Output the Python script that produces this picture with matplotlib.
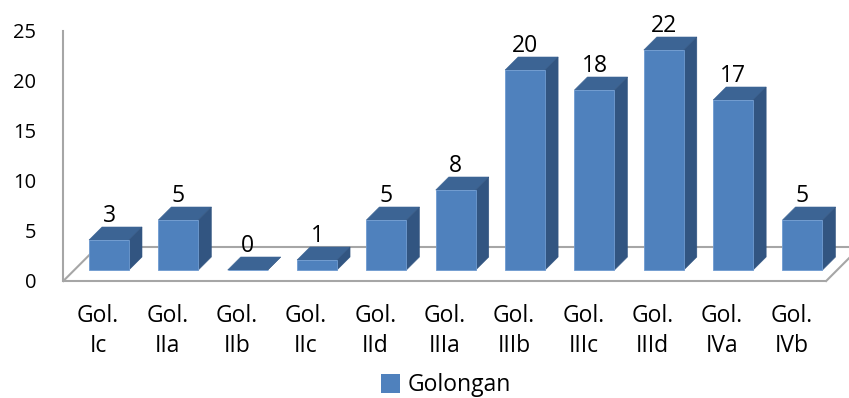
import matplotlib
matplotlib.use("Agg")
import matplotlib.pyplot as plt
from matplotlib.patches import Polygon, Patch

# Data
categories = ["Ic", "IIa", "IIb", "IIc", "IId", "IIIa", "IIIb", "IIIc", "IIId", "IVa", "IVb"]
values = [3, 5, 0, 1, 5, 8, 20, 18, 22, 17, 5]
y_ticks = [0, 5, 10, 15, 20, 25]
series_name = "Golongan"

# Colours
FRONT = "#4F81BD"
TOP = "#3C6494"
SIDE = "#325581"
EDGE = "#6E9AD0"
WALL = "#A6A6A6"

plt.rcParams["font.family"] = ["Open Sans", "DejaVu Sans"]

W, H, DPI = 849, 398, 100
fig = plt.figure(figsize=(W / DPI, H / DPI), dpi=DPI)
ax = fig.add_axes([0, 0, 1, 1])
ax.axis("off")

# Oblique projection: pixels per category / per value unit
CAT_PX = 69.35
VAL_PX = 10.0
X0_PX = 98.0      # category 0 on the front plane
Y0_PX = 281.0     # value 0 on the front plane (from the top)
ax.set_xlim(-X0_PX / CAT_PX, (W - X0_PX) / CAT_PX)
ax.set_ylim(-(H - Y0_PX) / VAL_PX, Y0_PX / VAL_PX)


def ox(d):
    return d / CAT_PX


def oy(d):
    return d / VAL_PX


BAR_FRONT = 11    # depth of bar front faces (px)
BAR_DEPTH = 13    # bar thickness (px)
WALL_DEPTH = 34   # depth of the floor (px)
BAR_W = 40 / CAT_PX

n = len(categories)
left, right = -0.5, n - 0.5
ymax = max(y_ticks)

# Floor and vertical axis
lw = 1.5
ax.plot([left, right], [0, 0], color=WALL, lw=lw, zorder=1, solid_capstyle="butt")
ax.plot([left + ox(WALL_DEPTH), right + ox(WALL_DEPTH)], [oy(WALL_DEPTH)] * 2,
        color=WALL, lw=lw, zorder=1)
ax.plot([left, left + ox(WALL_DEPTH)], [0, oy(WALL_DEPTH)], color=WALL, lw=lw, zorder=1)
ax.plot([right, right + ox(WALL_DEPTH)], [0, oy(WALL_DEPTH)], color=WALL, lw=lw, zorder=1)
ax.plot([left, left], [0, ymax], color=WALL, lw=lw, zorder=1)

# Y tick labels
for t in y_ticks:
    ax.text(left - ox(27), t - oy(7), str(t), ha="right", va="baseline",
            fontsize=14.5, color="black")

# Bars
xs = [i + ox(BAR_FRONT) for i in range(n)]
ax.bar(xs, values, width=BAR_W, bottom=oy(BAR_FRONT), color=FRONT,
       edgecolor=EDGE, linewidth=0.6, zorder=3)
for i, v in enumerate(values):
    x0 = xs[i] - BAR_W / 2
    x1 = xs[i] + BAR_W / 2
    yb = oy(BAR_FRONT)
    yt = v + oy(BAR_FRONT)
    dx, dy = ox(BAR_DEPTH), oy(BAR_DEPTH)
    top = Polygon([(x0, yt), (x1, yt), (x1 + dx, yt + dy), (x0 + dx, yt + dy)],
                  closed=True, facecolor=TOP, edgecolor=TOP, lw=0.4, zorder=2)
    side = Polygon([(x1, yb), (x1, yt), (x1 + dx, yt + dy), (x1 + dx, yb + dy)],
                   closed=True, facecolor=SIDE, edgecolor=SIDE, lw=0.4, zorder=2)
    ax.add_patch(top)
    ax.add_patch(side)
    ax.text(xs[i], v + oy(BAR_FRONT + BAR_DEPTH + 5), str(v), ha="center",
            va="baseline", fontsize=16.5, color="black", zorder=4)

# Category labels
for i, c in enumerate(categories):
    ax.text(i, -oy(23), "Gol.\n" + c, ha="center", va="top", fontsize=16.5,
            linespacing=1.35, color="black")

# Legend
fig.legend(handles=[Patch(facecolor=FRONT, edgecolor="none")], labels=[series_name],
           loc="center", bbox_to_anchor=(446 / W, 1 - 385 / H), frameon=False,
           handlelength=0.85, handleheight=0.9, handletextpad=0.35, fontsize=16.5,
           borderpad=0, borderaxespad=0)

fig.savefig("out.png", dpi=DPI)
